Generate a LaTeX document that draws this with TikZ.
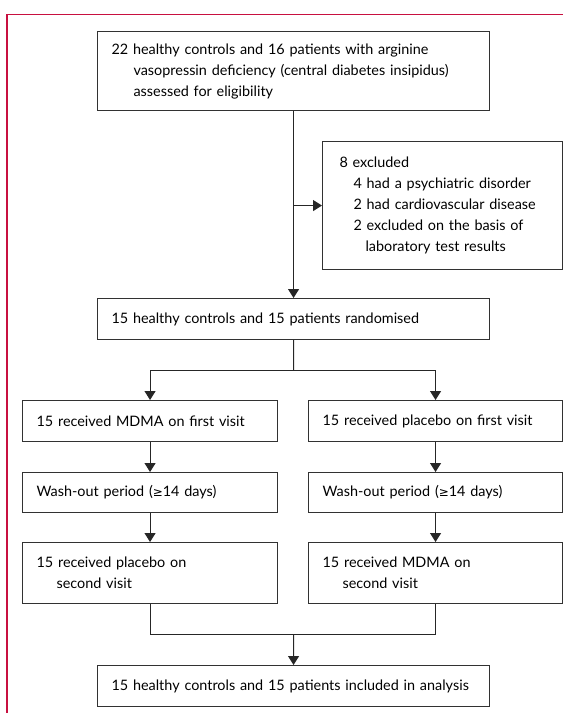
\documentclass[tikz,border=0pt]{standalone}
\usepackage{fontspec}
\setmainfont{Lato}
\newfontfamily\symfont{DejaVu Sans}
\usepackage{tikz}
\usetikzlibrary{arrows.meta, positioning, calc}
\definecolor{lancetred}{RGB}{200,16,64}
\definecolor{boxgray}{RGB}{50,50,50}
\newcommand\geqsym{{\symfont\fontsize{12}{14}\selectfont ≥}}

\begin{document}
\begin{tikzpicture}[x=1pt, y=-1pt,
  box/.style={rectangle, draw=boxgray, line width=1.1pt, align=left, anchor=north west, inner xsep=14pt, inner ysep=0pt, font=\fontsize{14.4}{21}\selectfont, text=black},
  arrow/.style={-{Triangle[width=11pt,length=9pt]}, line width=1.1pt, draw=black!85},
  link/.style={line width=1.1pt, draw=black!85}
]
\useasboundingbox (0,0) rectangle (563,713);

% ── Frame ────────────────────────────────────────────────────
\draw[lancetred, line width=1.3pt] (7,713) -- (7,14.5) -- (563,14.5);

% ── Enrolment ────────────────────────────────────────────────
\node[box, text width=364pt, minimum height=79pt] (screen) at (97,31)
  {22 healthy controls and 16 patients with arginine\\\hspace*{22pt}vasopressin deficiency (central diabetes insipidus)\\\hspace*{22pt}assessed for eligibility};
\node[box, text width=206pt, minimum height=128pt, inner xsep=17pt] (excl) at (322,141)
  {8 excluded\\\hspace*{14pt}4 had a psychiatric disorder\\\hspace*{14pt}2 had cardiovascular disease\\\hspace*{14pt}2 excluded on the basis of\\\hspace*{26pt}laboratory test results};
\node[box, text width=364pt, minimum height=41pt] (rand) at (97,298)
  {15 healthy controls and 15 patients randomised};

% ── MDMA first (left column) ─────────────────────────────────
\node[box, text width=227pt, minimum height=41pt] (mdmaA)    at (22,400) {15 received MDMA on first visit};
\node[box, text width=227pt, minimum height=40pt] (washA)    at (22,472) {Wash-out period (\geqsym14 days)};
\node[box, text width=227pt, minimum height=61pt] (placeboB) at (22,542) {15 received placebo on\\\hspace*{20pt}second visit};

% ── Placebo first (right column) ─────────────────────────────
\node[box, text width=226pt, minimum height=41pt] (placeboA) at (308,400) {15 received placebo on first visit};
\node[box, text width=226pt, minimum height=40pt] (washB)    at (308,472) {Wash-out period (\geqsym14 days)};
\node[box, text width=226pt, minimum height=61pt] (mdmaB)    at (308,542) {15 received MDMA on\\\hspace*{20pt}second visit};

% ── Analysis ─────────────────────────────────────────────────
\node[box, text width=364pt, minimum height=41pt] (final) at (97,665)
  {\mbox{15 healthy controls and 15 patients included in analysis}};

% ── Arrows ───────────────────────────────────────────────────
\draw[arrow] (screen.south) -- (rand.north);
\coordinate (exbr) at (screen.south |- excl.west);
\draw[arrow] (exbr) -- (excl.west);

\coordinate (split) at ($(rand.south)!0.5!(rand.south |- mdmaA.north)$);
\draw[link] (rand.south) -- (split);
\draw[arrow] (split) -| (mdmaA.north);
\draw[arrow] (split) -| (placeboA.north);

\draw[arrow] (mdmaA.south)    -- (washA.north);
\draw[arrow] (washA.south)    -- (placeboB.north);
\draw[arrow] (placeboA.south) -- (washB.north);
\draw[arrow] (washB.south)    -- (mdmaB.north);

\coordinate (join) at ($(final.north)!0.5!(final.north |- placeboB.south)$);
\draw[link] (placeboB.south) |- (join) -| (mdmaB.south);
\draw[arrow] (join) -- (final.north);
\end{tikzpicture}
\end{document}
